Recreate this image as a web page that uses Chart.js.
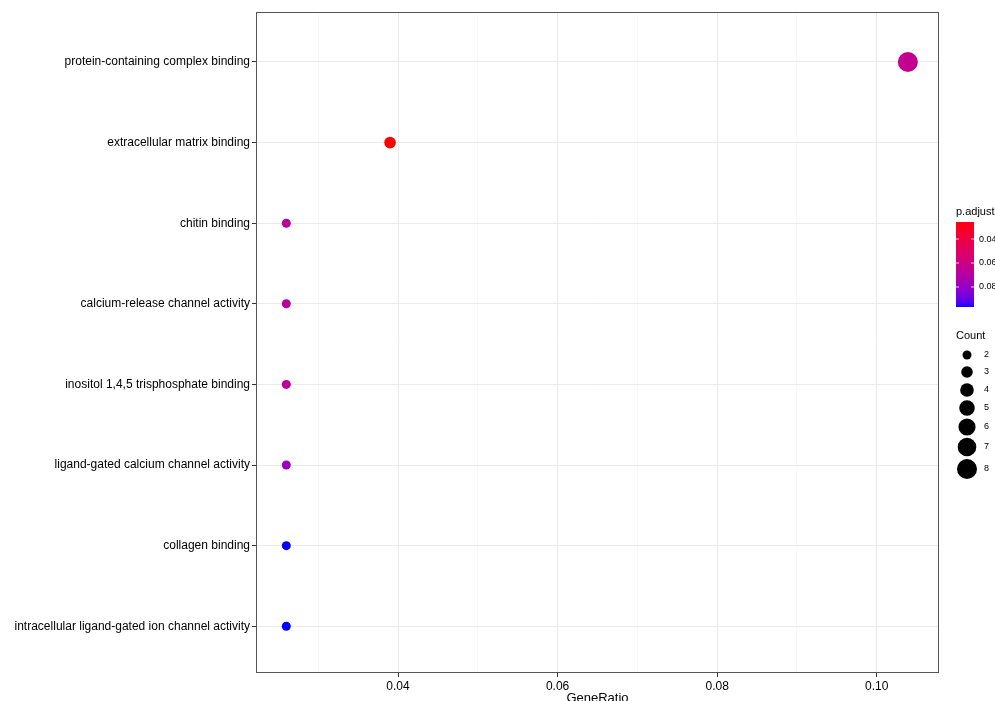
<!DOCTYPE html>
<html>
<head>
<meta charset="utf-8">
<script src="https://cdn.jsdelivr.net/npm/chart.js@4"></script>
<style>
  body { margin: 0; background: #fff; }
  canvas { display: block; }
</style>
</head>
<body>
<canvas id="myChart" width="995" height="701"></canvas>
<script>
// GO terms, top to bottom
const terms = [
    'protein-containing complex binding',
    'extracellular matrix binding',
    'chitin binding',
    'calcium-release channel activity',
    'inositol 1,4,5 trisphosphate binding',
    'ligand-gated calcium channel activity',
    'collagen binding',
    'intracellular ligand-gated ion channel activity'
];
const geneRatio = [0.1039, 0.0390, 0.0260, 0.0260, 0.0260, 0.0260, 0.0260, 0.0260];
const counts = [8, 3, 2, 2, 2, 2, 2, 2];
const pAdjust = [0.064, 0.0258, 0.068, 0.068, 0.068, 0.078, 0.0967, 0.0967];

const xTicks = [0.03, 0.04, 0.05, 0.06, 0.07, 0.08, 0.09, 0.10];
const xLabels = ['0.04', '0.06', '0.08', '0.10'];
const pTicks = [0.04, 0.06, 0.08];
const countLegend = [2, 3, 4, 5, 6, 7, 8];

const FONT = "'Liberation Sans', Arial, sans-serif";
const pMin = Math.min(...pAdjust), pMax = Math.max(...pAdjust);

// red -> blue gradient interpolated in CIE Lab (like ggplot)
function lin(c){ c /= 255; return c <= 0.04045 ? c / 12.92 : Math.pow((c + 0.055) / 1.055, 2.4); }
function unlin(c){ c = c <= 0.0031308 ? 12.92 * c : 1.055 * Math.pow(c, 1/2.4) - 0.055; return Math.round(Math.max(0, Math.min(1, c)) * 255); }
function toLab(rgb){
    const R = lin(rgb[0]), G = lin(rgb[1]), B = lin(rgb[2]);
    const X = (0.4124*R + 0.3576*G + 0.1805*B) / 0.95047;
    const Y = (0.2126*R + 0.7152*G + 0.0722*B);
    const Z = (0.0193*R + 0.1192*G + 0.9505*B) / 1.08883;
    const f = t => t > 0.008856 ? Math.cbrt(t) : 7.787*t + 16/116;
    return [116*f(Y) - 16, 500*(f(X) - f(Y)), 200*(f(Y) - f(Z))];
}
function fromLab(lab){
    const fy = (lab[0] + 16) / 116, fx = fy + lab[1]/500, fz = fy - lab[2]/200;
    const g = t => t*t*t > 0.008856 ? t*t*t : (t - 16/116) / 7.787;
    const X = g(fx)*0.95047, Y = g(fy), Z = g(fz)*1.08883;
    const R = 3.2406*X - 1.5372*Y - 0.4986*Z;
    const G = -0.9689*X + 1.8758*Y + 0.0415*Z;
    const B = 0.0557*X - 0.2040*Y + 1.0570*Z;
    return 'rgb(' + unlin(R) + ',' + unlin(G) + ',' + unlin(B) + ')';
}
const labLow = toLab([255, 0, 0]), labHigh = toLab([0, 0, 255]);
function pColor(p){
    const t = (p - pMin) / (pMax - pMin);
    return fromLab(labLow.map((v, i) => v + (labHigh[i] - v) * t));
}
function sizeRadius(n){ return Math.sqrt(13.3 * n - 6.3); }

const legendPlugin = {
    id: 'sideLegend',
    afterDraw(chart){
        const c = chart.ctx, a = chart.chartArea;
        c.save();
        // panel border
        c.strokeStyle = '#555';
        c.lineWidth = 1;
        c.strokeRect(a.left + 0.5, a.top + 0.5, a.right - a.left - 1, a.bottom - a.top - 1);

        // x axis title
        c.fillStyle = '#000';
        c.font = '13px ' + FONT;
        c.textAlign = 'center';
        c.textBaseline = 'middle';
        c.fillText('GeneRatio', (a.left + a.right) / 2, 698);

        // p.adjust colour bar
        const bx = 956, by = 222, bw = 18, bh = 85;
        c.textAlign = 'left';
        c.font = '11px ' + FONT;
        c.fillText('p.adjust', bx, 212);
        for (let i = 0; i < bh; i++) {
            c.fillStyle = pColor(pMin + (pMax - pMin) * (i + 0.5) / bh);
            c.fillRect(bx, by + i, bw, 1);
        }
        c.font = '9px ' + FONT;
        pTicks.forEach(v => {
            const y = by + (v - pMin) / (pMax - pMin) * bh;
            c.strokeStyle = 'rgba(255,255,255,0.8)';
            c.beginPath();
            c.moveTo(bx, y); c.lineTo(bx + 3, y);
            c.moveTo(bx + bw - 3, y); c.lineTo(bx + bw, y);
            c.stroke();
            c.fillStyle = '#000';
            c.fillText(v.toFixed(2), bx + bw + 5, y);
        });

        // Count size legend
        c.font = '11px ' + FONT;
        c.fillText('Count', bx, 336);
        const ys = [355, 372, 390, 408, 427, 447, 469];
        c.font = '9px ' + FONT;
        countLegend.forEach((n, i) => {
            c.fillStyle = '#000';
            c.beginPath();
            c.arc(967, ys[i], sizeRadius(n), 0, Math.PI * 2);
            c.fill();
            c.fillText(String(n), 984, ys[i]);
        });
        c.restore();
    }
};

const ctx = document.getElementById('myChart').getContext('2d');
const chart = new Chart(ctx, {
    type: 'scatter',
    data: {
        datasets: [{
            data: geneRatio.map((g, i) => ({x: g, y: i})),
            pointRadius: c => sizeRadius(counts[c.dataIndex]),
            pointBackgroundColor: c => pColor(pAdjust[c.dataIndex]),
            pointBorderWidth: 0,
            pointHoverRadius: c => sizeRadius(counts[c.dataIndex])
        }]
    },
    options: {
        responsive: false,
        animation: false,
        events: [],
        layout: { padding: { top: 12, right: 56, left: 0, bottom: 0 } },
        plugins: { legend: { display: false }, tooltip: { enabled: false } },
        scales: {
            x: {
                type: 'linear',
                min: 0.0222,
                max: 0.1078,
                afterBuildTicks: ax => { ax.ticks = xTicks.map(v => ({value: v})); },
                afterFit: ax => { ax.height = 28; },
                border: { display: false },
                grid: {
                    color: c => (Math.round(c.tick.value * 100) % 2 === 0) ? '#ebebeb' : '#f3f3f3',
                    lineWidth: c => (Math.round(c.tick.value * 100) % 2 === 0) ? 1 : 0.6,
                    tickColor: c => (Math.round(c.tick.value * 100) % 2 === 0) ? '#333' : 'rgba(0,0,0,0)',
                    tickLength: 4
                },
                ticks: {
                    autoSkip: false,
                    maxRotation: 0,
                    padding: 2,
                    color: '#000',
                    font: { family: FONT, size: 12 },
                    callback: v => {
                        const s = v.toFixed(2);
                        return xLabels.includes(s) ? s : '';
                    }
                }
            },
            y: {
                type: 'linear',
                reverse: true,
                min: -0.62,
                max: terms.length - 1 + 0.58,
                afterBuildTicks: ax => { ax.ticks = terms.map((_, i) => ({value: i})); },
                afterFit: ax => { ax.width = 256; },
                border: { display: false },
                grid: { color: '#ebebeb', tickColor: '#333', tickLength: 4 },
                ticks: {
                    autoSkip: false,
                    padding: 2,
                    color: '#000',
                    font: { family: FONT, size: 12 },
                    callback: v => terms[v]
                }
            }
        }
    },
    plugins: [legendPlugin]
});
</script>
</body>
</html>
